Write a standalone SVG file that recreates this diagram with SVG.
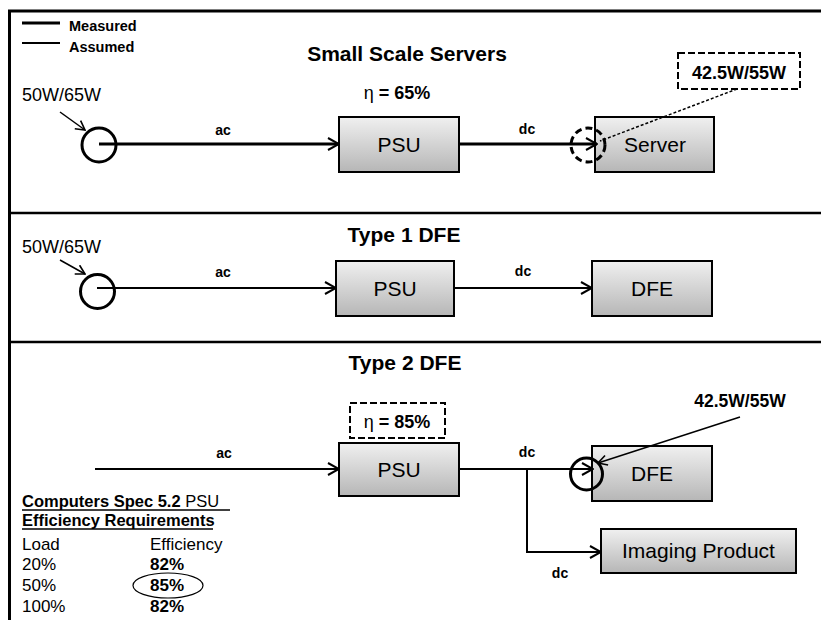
<svg xmlns="http://www.w3.org/2000/svg" width="821" height="620" viewBox="0 0 821 620">
<defs>
<linearGradient id="boxg" x1="0" y1="0" x2="0" y2="1">
<stop offset="0" stop-color="#f0f0f0"/>
<stop offset="1" stop-color="#b6b6b6"/>
</linearGradient>
<marker id="arr" markerUnits="userSpaceOnUse" viewBox="0 0 13 14" markerWidth="13" markerHeight="14" refX="12" refY="7" orient="auto">
<path d="M1,1 L12,7 L1,13" fill="none" stroke="#000" stroke-width="2"/>
</marker>
<marker id="arrs" markerUnits="userSpaceOnUse" viewBox="0 0 11 12" markerWidth="11" markerHeight="12" refX="10" refY="6" orient="auto">
<path d="M1,1 L10,6 L1,11" fill="none" stroke="#000" stroke-width="1.6"/>
</marker>
</defs>
<style>
text{font-family:"Liberation Sans",Arial,sans-serif;fill:#000}
.title{font-size:21px;font-weight:bold;text-anchor:middle}
.box{fill:url(#boxg);stroke:#000;stroke-width:2}
.btxt{font-size:21px;text-anchor:middle}
.lbl{font-size:14px;font-weight:bold;text-anchor:middle}
.pw{font-size:18px}
.eta{font-size:18px;text-anchor:middle}
.frame{stroke:#000;fill:none}
.meas{stroke:#000;stroke-width:3;fill:none}
.assm{stroke:#000;stroke-width:2;fill:none}
.thin{stroke:#000;stroke-width:1.5;fill:none}
.dash{stroke:#000;stroke-width:2;fill:#fff;stroke-dasharray:7 3}
.tab{font-size:17px}
.tabh{font-size:16.5px;font-weight:bold}
</style>
<rect width="821" height="620" fill="#fff"/>

<g id="frame">
<path class="frame" stroke-width="3" d="M9.5,620 V11 H821"/>
<path class="frame" stroke-width="2.5" d="M9.5,213 H821 M9.5,342 H821"/>
</g>

<g id="legend">
<line x1="22" y1="23" x2="60" y2="23" stroke="#000" stroke-width="3"/>
<line x1="22" y1="43" x2="60" y2="43" stroke="#000" stroke-width="2"/>
<text x="69" y="31" font-size="14.5" font-weight="bold">Measured</text>
<text x="69" y="52" font-size="14.5" font-weight="bold">Assumed</text>
</g>

<g id="titles">
<text class="title" x="407" y="61">Small Scale Servers</text>
<text class="title" x="404" y="242">Type 1 DFE</text>
<text class="title" x="405" y="370">Type 2 DFE</text>
</g>

<g id="labels">
<text class="lbl" x="223" y="135">ac</text>
<text class="lbl" x="527" y="134">dc</text>
<text class="lbl" x="223" y="277">ac</text>
<text class="lbl" x="523" y="276">dc</text>
<text class="lbl" x="224" y="458">ac</text>
<text class="lbl" x="527" y="457">dc</text>
<text class="lbl" x="560" y="578">dc</text>
</g>

<g id="psu1">
<rect class="box" x="339" y="117" width="120" height="55"/>
<text class="btxt" x="399" y="152">PSU</text>
</g>
<g id="server">
<rect class="box" x="595" y="117" width="119" height="55"/>
<text class="btxt" x="655" y="152">Server</text>
</g>
<g id="meter1">
<circle cx="99" cy="145" r="17" fill="none" stroke="#000" stroke-width="3"/>
<text class="pw" x="22" y="101">50W/65W</text>
</g>
<g id="eta1">
<text class="eta" x="397" y="99">η <tspan font-weight="bold">= 65%</tspan></text>
</g>
<g id="meter2">
<circle cx="588" cy="145" r="17" fill="none" stroke="#000" stroke-width="3" stroke-dasharray="7 4"/>
</g>
<g id="label1">
<rect class="dash" x="678" y="53" width="122" height="36"/>
<text x="739" y="79" font-size="18" font-weight="bold" text-anchor="middle">42.5W/55W</text>
</g>

<g id="psu2">
<rect class="box" x="336" y="261" width="118" height="55"/>
<text class="btxt" x="395" y="296">PSU</text>
</g>
<g id="dfe1">
<rect class="box" x="592" y="261" width="120" height="55"/>
<text class="btxt" x="652" y="296">DFE</text>
</g>
<g id="meter3">
<circle cx="97.5" cy="291.5" r="17" fill="none" stroke="#000" stroke-width="3"/>
<text class="pw" x="22" y="253">50W/65W</text>
</g>

<g id="eta2">
<rect class="dash" x="350" y="403" width="95" height="35"/>
<text class="eta" x="397" y="428">η <tspan font-weight="bold">= 85%</tspan></text>
</g>
<g id="psu3">
<rect class="box" x="339" y="443" width="120" height="53"/>
<text class="btxt" x="399" y="477">PSU</text>
</g>
<g id="dfe2">
<rect class="box" x="592" y="446" width="120" height="55"/>
<text class="btxt" x="652" y="481">DFE</text>
</g>
<g id="imaging">
<rect class="box" x="601" y="529" width="195" height="44"/>
<text class="btxt" x="698.5" y="558">Imaging Product</text>
</g>
<g id="meter4">
<circle cx="586.5" cy="474" r="16" fill="none" stroke="#000" stroke-width="3"/>
<text x="740" y="407" font-size="17.5" font-weight="bold" text-anchor="middle">42.5W/55W</text>
</g>

<g id="table">
<text class="tabh" x="22" y="507">Computers Spec 5.2 <tspan font-weight="normal">PSU</tspan></text>
<line x1="22" y1="510" x2="230" y2="510" stroke="#000" stroke-width="1.3"/>
<text class="tabh" x="22" y="526">Efficiency Requirements</text>
<line x1="22" y1="529" x2="213" y2="529" stroke="#000" stroke-width="1.3"/>
<text class="tab" x="22" y="550">Load</text>
<text class="tab" x="150" y="550">Efficiency</text>
<text class="tab" x="22" y="570">20%</text>
<text class="tab" x="150" y="570" font-weight="bold">82%</text>
<text class="tab" x="22" y="591">50%</text>
<text class="tab" x="150" y="591" font-weight="bold">85%</text>
<text class="tab" x="22" y="612">100%</text>
<text class="tab" x="150" y="612" font-weight="bold">82%</text>
<ellipse cx="168" cy="585.5" rx="35" ry="12.5" fill="none" stroke="#000" stroke-width="1.2"/>
</g>

<g id="connectors">
<line class="meas" x1="99" y1="144" x2="339" y2="144" marker-end="url(#arr)"/>
<line class="meas" x1="459" y1="144" x2="597" y2="144" marker-end="url(#arr)"/>
<line class="thin" x1="60" y1="112" x2="85" y2="130" marker-end="url(#arrs)"/>
<line class="thin" x1="737" y1="89" x2="600" y2="141" stroke-dasharray="3 2"/>

<line class="assm" x1="97" y1="288" x2="336" y2="288" marker-end="url(#arr)"/>
<line class="assm" x1="454" y1="288" x2="592" y2="288" marker-end="url(#arr)"/>
<line class="thin" x1="60" y1="260" x2="85" y2="274" marker-end="url(#arrs)"/>

<line class="assm" x1="95" y1="469" x2="339" y2="469" marker-end="url(#arr)"/>
<line class="assm" x1="459" y1="469" x2="593" y2="469" marker-end="url(#arr)"/>
<polyline class="assm" points="527,469 527,552 601,552" marker-end="url(#arr)"/>
<line class="thin" x1="740" y1="417" x2="598" y2="463" marker-end="url(#arrs)"/>
</g>
</svg>
